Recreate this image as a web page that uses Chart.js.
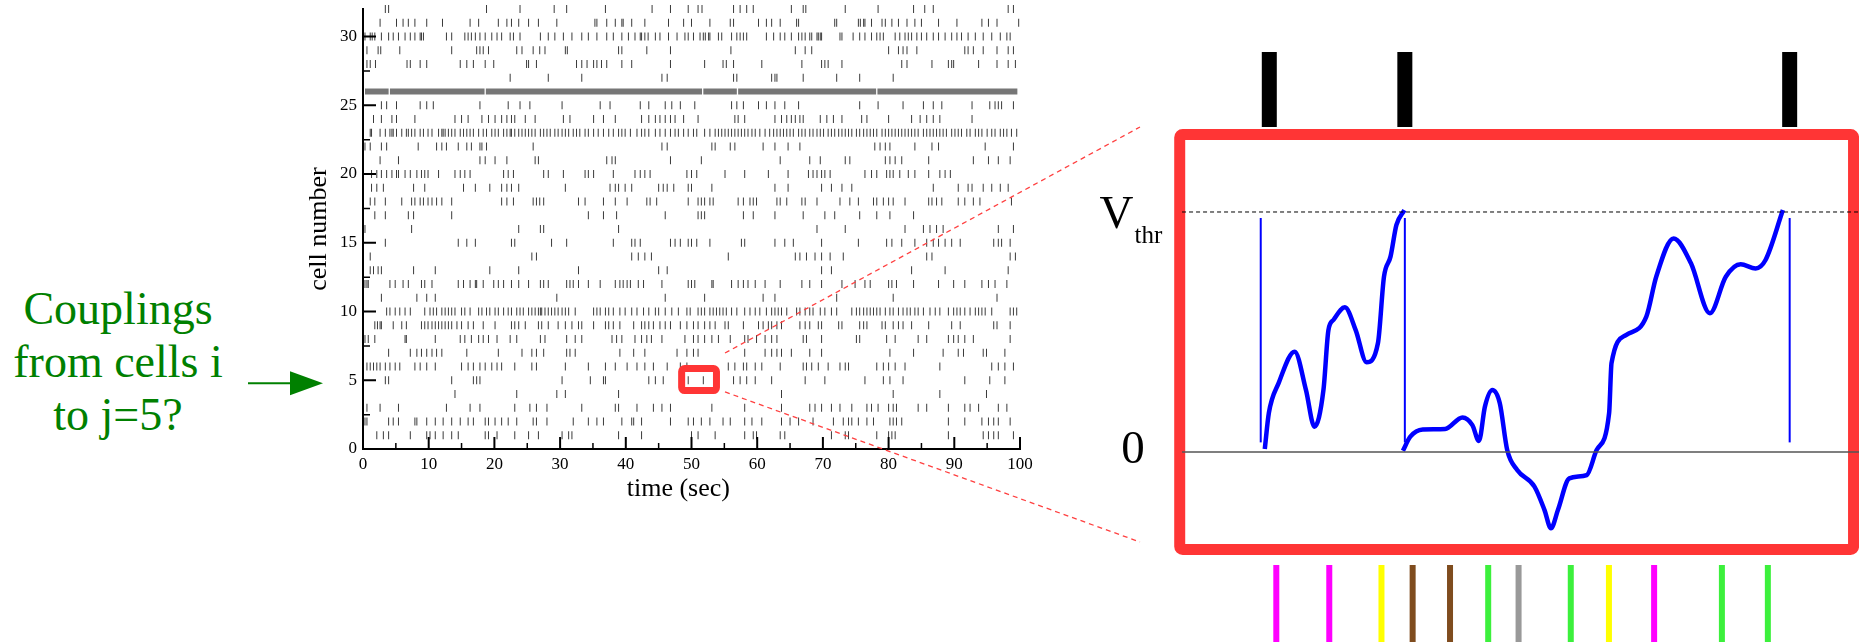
<!DOCTYPE html>
<html>
<head>
<meta charset="utf-8">
<script src="https://cdn.jsdelivr.net/npm/chart.js@4.4.1/dist/chart.umd.min.js"></script>
<style>
  html, body { margin: 0; padding: 0; background: #fff; }
  body { width: 1859px; height: 642px; position: relative; overflow: hidden; }
  #raster { position: absolute; left: 290px; top: 0; }
  #volt { position: absolute; left: 1080px; top: 0; }
  #overlay { position: absolute; left: 0; top: 0; pointer-events: none; }
  #question {
    position: absolute; left: 0; top: 282px; width: 236px;
    text-align: center; font-family: "Liberation Serif", serif;
    font-size: 46px; line-height: 53px; color: #008000;
  }
</style>
</head>
<body>
<div id="question">Couplings<br>from cells i<br>to j=5?</div>
<canvas id="raster" width="760" height="530"></canvas>
<canvas id="volt" width="779" height="642"></canvas>
<canvas id="overlay" width="1859" height="642"></canvas>
<script>
// ---- raster: spike times (sec) for each cell ----
var cell01 = [2.1, 3.1, 3.9, 7.2, 9.7, 10.2, 11.0, 12.2, 13.5, 14.5, 18.6, 19.1, 20.4, 23.1, 25.2, 26.7, 30.3, 31.3, 31.8, 38.9, 42.4, 50.0, 51.0, 53.6, 58.1, 59.4, 59.9, 63.5, 64.2, 71.3, 73.4, 73.9, 78.2, 80.0, 80.5, 81.0, 89.1, 94.4, 95.2, 96.0, 96.7, 99.0];
var cell02 = [0.3, 0.6, 3.9, 4.6, 5.4, 7.9, 8.2, 9.7, 11.0, 12.2, 13.5, 14.8, 16.0, 16.8, 18.6, 19.1, 20.1, 21.1, 22.1, 23.4, 25.9, 26.4, 28.0, 32.0, 34.3, 35.6, 36.6, 39.4, 40.9, 41.2, 42.4, 46.8, 49.5, 50.3, 51.5, 52.8, 54.8, 55.9, 58.1, 59.2, 60.7, 63.7, 65.0, 66.3, 68.5, 71.6, 73.1, 73.9, 74.4, 75.4, 76.7, 77.7, 80.2, 80.7, 81.2, 82.0, 89.1, 91.6, 94.2, 95.2, 96.0, 96.7, 98.5];
var cell03 = [0.6, 2.6, 5.4, 12.7, 16.3, 17.8, 23.1, 25.4, 26.4, 28.0, 33.3, 38.4, 38.9, 41.7, 44.2, 45.5, 46.8, 53.1, 58.1, 63.7, 68.0, 68.8, 69.8, 71.3, 72.6, 74.4, 76.7, 77.4, 78.4, 80.0, 80.7, 81.2, 84.5, 85.8, 89.1, 91.6, 92.4, 93.7, 96.7, 98.0];
var cell04 = [14.0, 23.4, 29.5, 30.8, 38.9, 63.7, 80.7, 87.8, 94.9];
var cell05 = [3.4, 3.9, 13.5, 16.8, 17.3, 17.8, 30.3, 34.6, 36.6, 36.9, 43.5, 44.5, 45.7, 48.9, 49.5, 51.8, 56.4, 57.4, 58.4, 59.7, 62.2, 67.3, 70.3, 76.4, 79.2, 80.2, 82.2, 91.6, 95.4, 97.7];
var cell06 = [0.6, 1.1, 1.6, 2.1, 2.6, 3.4, 4.1, 4.9, 5.6, 7.9, 8.7, 9.7, 11.0, 15.0, 16.0, 16.8, 17.8, 18.6, 19.6, 20.4, 21.1, 23.1, 25.7, 26.4, 30.8, 34.3, 36.9, 38.4, 40.2, 41.7, 42.9, 44.2, 46.3, 48.3, 49.3, 55.6, 56.6, 57.9, 58.4, 59.7, 60.7, 63.5, 67.0, 67.5, 68.3, 69.3, 70.8, 72.6, 73.4, 73.9, 78.2, 79.2, 80.0, 81.0, 82.5, 87.8, 95.7, 96.7, 97.7, 99.0];
var cell07 = [3.9, 7.2, 8.2, 8.9, 9.7, 10.5, 11.2, 12.0, 15.8, 20.6, 24.2, 25.7, 26.4, 27.5, 31.0, 31.5, 32.3, 39.1, 41.2, 42.9, 47.8, 49.3, 50.3, 51.0, 58.1, 61.2, 62.2, 63.0, 63.7, 65.2, 68.0, 69.8, 80.2, 83.8, 88.3, 90.6, 91.4, 94.4, 94.9, 97.7];
var cell08 = [0.3, 0.8, 1.8, 6.4, 6.6, 11.0, 14.8, 15.5, 16.5, 17.6, 18.3, 19.1, 20.4, 22.4, 23.4, 27.0, 27.7, 31.0, 32.3, 33.3, 37.9, 38.6, 39.4, 41.4, 42.4, 43.2, 43.9, 45.5, 49.0, 50.3, 51.0, 52.0, 53.1, 54.1, 55.9, 58.1, 58.6, 59.9, 61.2, 62.2, 63.0, 67.0, 67.5, 69.8, 75.1, 75.6, 79.7, 81.0, 84.5, 85.8, 89.1, 89.9, 90.6, 91.6, 92.9, 98.5];
var cell09 = [1.8, 2.2, 2.6, 2.8, 4.6, 5.9, 6.6, 8.9, 9.4, 9.9, 10.5, 11.0, 11.5, 12.0, 12.5, 13.0, 13.5, 14.3, 15.0, 16.0, 16.8, 18.3, 20.1, 22.6, 23.1, 23.7, 24.7, 26.7, 27.2, 28.2, 29.7, 30.8, 31.8, 32.8, 33.3, 35.1, 36.9, 37.4, 38.1, 39.1, 41.2, 42.4, 42.9, 43.5, 44.2, 45.2, 46.0, 46.8, 48.3, 49.3, 50.3, 51.0, 52.0, 52.8, 53.6, 55.1, 55.6, 57.9, 60.2, 60.9, 61.7, 62.2, 63.0, 63.7, 66.5, 67.3, 68.0, 69.3, 69.8, 72.4, 72.9, 75.6, 76.2, 76.7, 79.0, 79.5, 80.7, 81.5, 82.2, 83.5, 86.1, 89.6, 90.9, 96.0, 96.5, 98.5];
var cell10 = [3.6, 4.1, 4.9, 5.6, 6.4, 7.2, 9.4, 10.2, 10.7, 11.2, 12.0, 12.5, 13.0, 13.5, 14.0, 15.0, 15.5, 16.3, 17.6, 18.1, 18.8, 19.3, 20.1, 20.6, 21.4, 22.1, 22.6, 23.4, 23.9, 24.4, 25.2, 25.7, 26.2, 26.7, 27.0, 27.2, 27.7, 28.2, 28.7, 29.2, 29.7, 30.3, 30.8, 31.3, 32.3, 35.1, 35.6, 36.1, 36.9, 37.4, 38.1, 39.1, 39.9, 40.9, 41.7, 42.7, 43.5, 44.5, 45.0, 46.0, 47.0, 48.0, 49.3, 49.8, 51.0, 51.5, 52.0, 52.8, 53.3, 53.8, 54.3, 54.8, 55.3, 56.1, 56.9, 58.1, 58.9, 59.7, 60.4, 61.4, 62.2, 62.7, 63.2, 63.7, 64.5, 66.0, 66.5, 67.3, 68.0, 68.5, 69.6, 70.3, 71.3, 72.1, 74.4, 75.1, 75.6, 76.2, 76.7, 77.2, 77.7, 78.2, 78.7, 79.5, 80.2, 80.7, 81.5, 82.2, 82.8, 83.3, 84.0, 84.5, 85.3, 86.3, 87.1, 87.8, 89.1, 89.9, 90.4, 90.9, 91.6, 92.4, 93.2, 93.7, 94.2, 94.7, 95.7, 98.5, 99.0, 99.5];
var cell11 = [2.8, 8.2, 9.7, 11.0, 29.5, 46.0, 52.0, 60.9, 62.7, 72.1, 80.7, 96.5];
var cell12 = [0.3, 0.6, 0.8, 4.1, 4.9, 6.1, 6.9, 8.9, 9.4, 10.5, 14.5, 15.3, 16.3, 17.1, 17.3, 18.3, 19.9, 20.6, 21.4, 22.6, 23.7, 25.2, 27.0, 27.5, 28.2, 31.0, 31.5, 32.0, 32.8, 34.3, 36.1, 38.4, 39.1, 39.6, 40.2, 40.7, 41.9, 42.7, 45.5, 49.5, 50.0, 50.5, 53.1, 53.3, 56.1, 57.1, 57.9, 58.6, 59.7, 61.2, 63.5, 66.8, 68.0, 69.8, 72.9, 74.9, 76.4, 77.2, 80.0, 80.5, 81.2, 83.8, 87.6, 89.9, 91.6, 94.2, 95.2, 96.2, 98.0];
var cell13 = [1.1, 1.6, 2.3, 2.8, 7.7, 11.0, 19.3, 23.7, 32.8, 45.0, 46.3, 69.8, 71.3, 83.5, 88.6, 98.2];
var cell14 = [1.1, 25.7, 26.4, 40.9, 41.9, 42.9, 43.9, 55.6, 65.8, 66.5, 67.5, 68.8, 69.8, 71.1, 73.1, 85.8, 86.6, 98.5, 99.3];
var cell15 = [3.4, 14.5, 15.8, 17.1, 22.6, 23.1, 28.7, 31.0, 38.1, 40.9, 41.4, 42.2, 46.8, 47.5, 48.3, 49.5, 50.0, 50.8, 52.8, 57.6, 58.1, 62.7, 64.2, 65.5, 69.8, 75.4, 79.7, 80.5, 82.0, 84.0, 85.8, 86.8, 87.6, 88.6, 89.6, 90.9, 96.0, 96.7, 97.2, 98.5];
var cell16 = [0.3, 7.4, 23.7, 27.0, 27.5, 38.9, 69.1, 73.4, 82.5, 85.3, 86.3, 87.3, 88.3, 96.7, 99.0];
var cell17 = [1.8, 3.4, 6.9, 7.7, 13.5, 34.3, 36.6, 38.6, 46.0, 51.0, 51.5, 52.0, 57.9, 59.4, 62.7, 67.0, 70.3, 71.8, 75.6, 78.2, 80.2, 83.8];
var cell18 = [1.1, 1.8, 3.4, 5.9, 7.4, 7.9, 8.7, 9.2, 9.9, 10.5, 11.2, 12.0, 13.5, 21.1, 21.9, 22.9, 25.9, 26.4, 26.9, 27.5, 32.8, 33.8, 36.6, 38.4, 40.2, 43.2, 43.7, 44.7, 49.5, 51.0, 51.5, 52.0, 52.8, 53.3, 57.1, 57.9, 58.9, 59.4, 59.9, 63.0, 63.5, 64.5, 66.8, 67.3, 69.1, 72.6, 74.1, 75.4, 77.7, 78.2, 79.2, 80.0, 80.7, 82.5, 86.1, 86.6, 87.3, 88.1, 90.6, 91.6, 92.9, 93.9, 98.7];
var cell19 = [1.3, 2.1, 3.1, 7.7, 9.4, 15.3, 17.1, 19.3, 21.1, 21.9, 22.6, 23.7, 30.8, 37.6, 38.4, 38.9, 39.9, 40.9, 45.0, 45.7, 46.3, 47.3, 49.5, 50.0, 53.1, 62.7, 64.7, 69.8, 71.3, 72.9, 74.4, 86.8, 90.6, 92.1, 92.7, 94.4, 95.7, 97.0, 98.2];
var cell20 = [1.3, 2.1, 2.8, 3.6, 4.4, 5.1, 5.4, 6.4, 7.2, 8.2, 8.9, 9.4, 9.9, 11.5, 14.0, 14.8, 15.5, 16.3, 21.4, 22.1, 22.9, 27.5, 28.2, 30.5, 33.8, 34.3, 35.1, 38.1, 41.4, 42.2, 42.9, 43.7, 49.3, 50.0, 50.8, 55.1, 58.1, 61.7, 64.7, 67.8, 68.5, 69.1, 69.8, 70.3, 71.1, 76.4, 77.4, 78.2, 79.7, 80.2, 80.7, 81.7, 83.0, 84.0, 86.1, 87.8, 88.6, 89.4];
var cell21 = [2.6, 5.4, 17.8, 18.6, 20.1, 21.9, 26.2, 26.7, 37.1, 37.9, 38.4, 46.8, 51.5, 63.5, 68.0, 69.6, 73.4, 74.1, 79.5, 80.2, 81.0, 82.0, 86.1, 92.9, 95.2, 96.7, 98.5];
var cell22 = [0.3, 1.1, 2.8, 3.6, 8.4, 11.2, 12.0, 12.7, 14.5, 15.8, 16.5, 17.8, 18.1, 18.8, 25.9, 45.5, 46.3, 53.1, 53.6, 55.9, 56.6, 60.9, 62.7, 64.7, 66.5, 77.9, 78.7, 79.5, 80.2, 84.0, 86.6, 87.6, 94.7, 99.0];
var cell23 = [1.1, 1.3, 2.6, 3.4, 4.1, 4.4, 4.6, 5.1, 5.9, 6.6, 6.9, 7.4, 7.9, 8.7, 9.2, 9.9, 10.5, 11.5, 12.0, 12.2, 12.5, 13.0, 13.5, 14.0, 14.8, 15.3, 15.8, 16.3, 16.8, 17.6, 18.3, 18.8, 19.6, 20.1, 20.6, 21.4, 21.9, 22.4, 22.6, 23.1, 23.7, 24.2, 24.7, 25.2, 25.7, 26.2, 27.0, 27.5, 28.0, 28.5, 29.2, 29.7, 30.3, 30.8, 31.3, 32.0, 32.5, 33.0, 33.8, 34.3, 35.1, 35.8, 36.6, 37.4, 38.1, 38.9, 39.4, 39.9, 40.7, 41.7, 42.4, 42.9, 43.5, 44.5, 45.2, 46.0, 46.8, 47.5, 48.0, 48.8, 49.5, 50.3, 50.8, 52.0, 52.8, 53.6, 54.1, 54.6, 55.1, 55.6, 56.1, 56.6, 57.1, 57.6, 58.1, 58.6, 59.2, 59.7, 60.4, 61.2, 61.9, 62.5, 63.0, 63.5, 64.0, 64.5, 65.0, 65.5, 66.3, 66.8, 67.3, 68.0, 68.5, 69.1, 69.6, 70.1, 70.8, 71.3, 71.8, 72.4, 72.9, 73.4, 73.9, 74.4, 75.1, 75.6, 76.2, 76.7, 77.2, 77.7, 78.2, 79.0, 79.5, 80.0, 80.5, 81.0, 81.5, 82.0, 82.5, 83.0, 83.5, 84.0, 84.5, 85.3, 85.8, 86.3, 86.8, 87.3, 87.8, 88.3, 88.8, 89.6, 90.1, 90.6, 91.1, 91.9, 92.4, 93.2, 93.7, 94.2, 95.0, 95.7, 96.2, 97.0, 97.5, 98.0, 98.7, 99.5];
var cell24 = [1.6, 2.8, 4.4, 5.1, 7.9, 14.0, 15.0, 16.0, 18.1, 19.1, 20.1, 21.1, 21.9, 22.6, 23.1, 24.7, 26.2, 30.5, 31.5, 35.1, 36.6, 38.4, 42.4, 43.5, 44.5, 45.2, 46.0, 46.8, 47.5, 48.8, 51.0, 56.6, 57.1, 58.1, 62.7, 63.7, 64.5, 65.2, 65.8, 66.5, 67.0, 69.6, 70.6, 71.6, 72.9, 75.9, 76.7, 80.0, 83.5, 84.8, 85.8, 86.8, 87.8, 92.7];
var cell25 = [2.8, 3.6, 5.1, 8.7, 9.7, 10.7, 17.8, 22.1, 23.9, 25.4, 30.3, 36.1, 37.6, 42.2, 43.5, 46.0, 47.0, 48.3, 50.5, 56.1, 56.9, 57.9, 60.2, 61.4, 62.7, 64.2, 66.3, 75.6, 78.4, 82.2, 85.3, 86.8, 88.1, 92.7, 95.4, 96.2, 96.7, 97.2, 99.0];
// cell 26 fires almost continuously: [start, end] of its dense bursts
var cell26Bursts = [[0.3, 3.9], [4.1, 18.5], [18.7, 51.6], [51.8, 56.9], [57.1, 78.1], [78.3, 99.6]];
var cell27 = [22.4, 28.2, 33.3, 45.5, 46.3, 56.4, 56.9, 62.2, 62.7, 63.0, 67.0, 72.1, 75.6, 80.7];
var cell28 = [0.6, 1.1, 1.9, 6.7, 7.2, 8.7, 9.7, 14.8, 15.8, 16.8, 18.6, 19.9, 24.9, 25.2, 26.4, 32.5, 33.3, 34.1, 35.1, 35.6, 36.3, 37.1, 39.4, 40.9, 46.8, 52.0, 54.8, 55.3, 56.4, 60.7, 66.8, 69.8, 70.3, 70.8, 72.9, 82.0, 82.8, 86.6, 89.1, 89.6, 89.9, 93.7, 96.5, 98.2, 99.3];
var cell29 = [0.6, 2.3, 2.7, 5.6, 13.5, 17.3, 17.8, 18.3, 19.1, 23.4, 24.2, 25.9, 26.9, 27.7, 30.8, 31.1, 38.9, 39.4, 43.2, 46.8, 56.0, 65.8, 67.3, 68.3, 80.0, 81.5, 82.2, 82.8, 84.3, 91.6, 92.1, 92.9, 94.4, 96.5, 98.2, 99.0];
var cell30 = [0.3, 1.1, 1.4, 1.8, 2.8, 3.9, 4.6, 5.4, 6.4, 7.2, 7.9, 8.7, 8.9, 9.2, 12.7, 13.5, 15.5, 16.0, 16.5, 17.1, 17.8, 18.6, 19.6, 20.4, 21.1, 22.4, 22.9, 23.9, 27.0, 28.2, 29.2, 30.5, 31.8, 33.3, 34.3, 35.6, 37.1, 38.1, 39.4, 40.4, 41.4, 42.2, 42.4, 42.9, 43.4, 44.5, 45.2, 46.5, 47.8, 49.0, 49.5, 50.3, 51.3, 51.8, 52.1, 52.6, 52.8, 54.1, 54.6, 56.1, 56.9, 57.4, 57.9, 58.4, 61.4, 62.5, 63.5, 64.2, 65.2, 66.3, 66.8, 67.3, 68.0, 68.3, 69.1, 69.3, 69.6, 69.8, 72.6, 72.9, 74.6, 75.6, 76.4, 77.4, 78.2, 78.7, 79.2, 81.0, 81.7, 82.5, 83.0, 83.5, 84.3, 85.0, 85.8, 86.8, 87.6, 88.6, 89.6, 90.4, 91.1, 92.1, 93.2, 94.4, 95.7, 97.0, 98.0, 98.5];
var cell31 = [2.6, 5.1, 6.1, 6.9, 7.9, 9.7, 12.1, 16.3, 17.6, 20.6, 21.9, 22.6, 23.7, 25.2, 26.7, 29.5, 35.3, 35.6, 37.1, 38.4, 39.4, 39.6, 40.9, 42.9, 46.5, 48.8, 50.0, 52.8, 55.9, 56.4, 60.2, 61.4, 62.2, 63.5, 66.0, 66.3, 71.8, 72.1, 75.4, 75.7, 76.2, 76.4, 77.4, 79.0, 79.5, 80.5, 81.5, 82.8, 84.0, 85.0, 87.6, 90.4, 94.2, 95.2, 96.5, 99.8];
var cell32 = [3.4, 3.9, 18.8, 23.9, 29.1, 31.0, 36.9, 44.0, 46.8, 49.5, 51.0, 51.6, 56.4, 57.4, 58.4, 59.4, 65.2, 67.0, 67.4, 73.4, 78.4, 83.8, 85.5, 86.8, 98.2, 99.0];

var cellRows = [cell01, cell02, cell03, cell04, cell05, cell06, cell07, cell08, cell09, cell10,
  cell11, cell12, cell13, cell14, cell15, cell16, cell17, cell18, cell19, cell20,
  cell21, cell22, cell23, cell24, cell25, [], cell27, cell28, cell29, cell30, cell31, cell32];

// axis ticks of the raster
var timeTicks = [0, 10, 20, 30, 40, 50, 60, 70, 80, 90, 100];
var timeMinor = [5, 15, 25, 35, 45, 55, 65, 75, 85, 95];
var cellTicks = [0, 5, 10, 15, 20, 25, 30];
var cellMinor = [2.5, 7.5, 12.5, 17.5, 22.5, 27.5];

// zoom window around cell 5 (time sec, cell)
var zoomT = [48.5, 53.8];
var zoomCell = [4.25, 5.85];

// ---- zoomed panel: membrane potential of cell 5 (time in panel units, V / Vthr) ----
var vThr = 1;
var traceT1 = [23.72, 24.24, 25.51, 27.55, 29.01, 30.10, 31.25, 31.89, 32.53, 34.0, 35.39, 36.79, 38.25, 39.02, 39.86, 40.62, 41.64];
var traceV1 = [0.012, 0.162, 0.288, 0.418, 0.258, 0.105, 0.258, 0.508, 0.55, 0.603, 0.508, 0.374, 0.454, 0.73, 0.814, 0.946, 1.008];
var traceT2 = [41.45, 42.40, 44.0, 46.87, 49.10, 50.37, 51.21, 51.98, 52.93, 53.89, 54.84, 56.12, 58.34, 59.63, 60.45, 61.35, 62.81, 65.05, 66.32, 67.92, 68.23, 70.14, 72.70, 73.97, 76.20, 78.43, 80.86, 82.90, 84.81, 86.73, 88.0, 90.23];
var traceV2 = [0.005, 0.064, 0.094, 0.096, 0.144, 0.112, 0.046, 0.189, 0.258, 0.203, 0.008, -0.075, -0.144, -0.242, -0.318, -0.242, -0.110, -0.096, 0.008, 0.161, 0.37, 0.488, 0.564, 0.73, 0.89, 0.786, 0.578, 0.73, 0.782, 0.765, 0.80, 1.008];
var resetTimes = [23.2, 41.7, 91.1];
var outSpikeTimes = [24.3, 41.7, 91.1];
var inputTimes = [25.2, 32.0, 38.7, 42.7, 47.5, 52.4, 56.3, 63.0, 67.9, 73.7, 82.4, 88.3];
var inputColors = ['#ff00ff', '#ff00ff', '#ffff00', '#7f4c1e', '#7f4c1e', '#3cf03c', '#999999', '#3cf03c', '#ffff00', '#ff00ff', '#3cf03c', '#3cf03c'];

var SERIF = '"Liberation Serif", "Times New Roman", serif';

// ticks drawn inside the plot, box around cell 5 and x title
var rasterDecor = {
  id: 'rasterDecor',
  afterDraw: function(chart) {
    var ctx = chart.ctx, xs = chart.scales.x, ys = chart.scales.y;
    var bottom = ys.bottom, left = xs.left;
    ctx.save();
    ctx.strokeStyle = '#000';
    ctx.lineWidth = 2;
    ctx.beginPath();
    timeTicks.forEach(function(v) { var p = xs.getPixelForValue(v); ctx.moveTo(p, bottom); ctx.lineTo(p, bottom - 12); });
    cellTicks.forEach(function(v) { var p = ys.getPixelForValue(v); ctx.moveTo(left, p); ctx.lineTo(left + 13, p); });
    ctx.stroke();
    ctx.lineWidth = 1.5;
    ctx.beginPath();
    timeMinor.forEach(function(v) { var p = xs.getPixelForValue(v); ctx.moveTo(p, bottom); ctx.lineTo(p, bottom - 6); });
    cellMinor.forEach(function(v) { var p = ys.getPixelForValue(v); ctx.moveTo(left, p); ctx.lineTo(left + 7, p); });
    ctx.stroke();

    var bx0 = xs.getPixelForValue(zoomT[0]), bx1 = xs.getPixelForValue(zoomT[1]);
    var by0 = ys.getPixelForValue(zoomCell[1]), by1 = ys.getPixelForValue(zoomCell[0]);
    ctx.strokeStyle = '#ff3535';
    ctx.lineWidth = 7;
    ctx.beginPath();
    ctx.roundRect(bx0, by0, bx1 - bx0, by1 - by0, 3);
    ctx.stroke();

    ctx.fillStyle = '#000';
    ctx.font = '26px ' + SERIF;
    ctx.textAlign = 'center';
    ctx.textBaseline = 'alphabetic';
    ctx.fillText('time (sec)', xs.getPixelForValue(48), bottom + 47);
    ctx.restore();
  }
};

var spikePoints = [];
cellRows.forEach(function(times, i) {
  times.forEach(function(t) { spikePoints.push({ x: t, y: i + 1 }); });
});

var rasterSets = [{
  data: spikePoints,
  pointStyle: 'line',
  rotation: 90,
  pointRadius: 4,
  pointHoverRadius: 4,
  borderWidth: 1,
  borderColor: '#3a3a3a',
  clip: false
}];
cell26Bursts.forEach(function(b) {
  rasterSets.push({
    data: [{ x: b[0], y: 26 }, { x: b[1], y: 26 }],
    showLine: true, pointRadius: 0, borderWidth: 6,
    borderColor: '#767676', borderCapStyle: 'butt', clip: false
  });
});

var rasterChart = new Chart('raster', {
  type: 'scatter',
  data: { datasets: rasterSets },
  plugins: [rasterDecor],
  options: {
    responsive: false,
    animation: false,
    events: [],
    layout: { padding: { top: 9, right: 30, left: 0, bottom: 0 } },
    plugins: { legend: { display: false }, tooltip: { enabled: false } },
    scales: {
      x: {
        type: 'linear', min: 0, max: 100,
        afterBuildTicks: function(s) { s.ticks = timeTicks.map(function(v) { return { value: v }; }); },
        afterFit: function(s) { s.height = 81; s.paddingLeft = 0; s.paddingRight = 0; },
        ticks: { color: '#000', font: { family: SERIF, size: 17 }, padding: 5, maxRotation: 0, autoSkip: false },
        grid: { display: false, drawTicks: false },
        border: { display: true, color: '#000', width: 2 }
      },
      y: {
        type: 'linear', min: 0, max: 32,
        afterBuildTicks: function(s) { s.ticks = cellTicks.map(function(v) { return { value: v }; }); },
        afterFit: function(s) { s.width = 73; s.paddingTop = 0; s.paddingBottom = 0; },
        ticks: { color: '#000', font: { family: SERIF, size: 17 }, padding: 6, autoSkip: false },
        grid: { display: false, drawTicks: false },
        border: { display: true, color: '#000', width: 2 },
        title: { display: true, text: 'cell number', color: '#000', font: { family: SERIF, size: 26 }, padding: { top: 14, bottom: 0 } }
      }
    }
  }
});

// ---- zoomed panel ----
var box = { t0: 12.8, t1: 99.3, v0: -0.406, v1: 1.323 };

var voltDecor = {
  id: 'voltDecor',
  beforeDatasetsDraw: function(chart) {
    var ctx = chart.ctx, xs = chart.scales.x, ys = chart.scales.y;
    var x0 = xs.getPixelForValue(box.t0), x1 = xs.getPixelForValue(box.t1);
    var y0 = ys.getPixelForValue(box.v1), y1 = ys.getPixelForValue(box.v0);
    ctx.save();
    ctx.strokeStyle = '#ff3535';
    ctx.lineWidth = 11;
    ctx.lineJoin = 'round';
    ctx.beginPath();
    ctx.roundRect(x0, y0, x1 - x0, y1 - y0, 3);
    ctx.stroke();
    ctx.restore();
  },
  afterDraw: function(chart) {
    var ctx = chart.ctx, xs = chart.scales.x, ys = chart.scales.y;
    var yT = ys.getPixelForValue(vThr), yZ = ys.getPixelForValue(0);
    ctx.save();
    ctx.fillStyle = '#000';
    ctx.textAlign = 'left';
    ctx.textBaseline = 'alphabetic';
    ctx.font = '47px ' + SERIF;
    ctx.fillText('V', xs.getPixelForValue(2.5), yT + 16);
    ctx.fillText('0', xs.getPixelForValue(5.3), yZ + 11);
    ctx.font = '25px ' + SERIF;
    ctx.fillText('thr', xs.getPixelForValue(7.0), yT + 31);
    ctx.restore();
  }
};

function seg(t, a, b, color, width, dash) {
  return {
    data: [{ x: t[0], y: a }, { x: t[1], y: b }],
    showLine: true, pointRadius: 0, borderColor: color, borderWidth: width,
    borderDash: dash || [], borderCapStyle: 'butt', clip: false
  };
}

var voltSets = [];
voltSets.push(seg([box.t0 + 0.3, 100], 0, 0, '#555555', 1.5));
voltSets.push(seg([box.t0 + 0.3, 100], vThr, vThr, '#000000', 1, [4, 3]));
resetTimes.forEach(function(t) { voltSets.push(seg([t, t], 0.04, 0.975, '#0000ff', 2)); });
[[traceT1, traceV1], [traceT2, traceV2]].forEach(function(p) {
  voltSets.push({
    data: p[0].map(function(t, i) { return { x: t, y: p[1][i] }; }),
    showLine: true, pointRadius: 0, borderColor: '#0000ff', borderWidth: 4.5,
    cubicInterpolationMode: 'monotone', borderCapStyle: 'butt', clip: false
  });
});
outSpikeTimes.forEach(function(t) { voltSets.push(seg([t, t], 1.354, 1.667, '#000000', 15)); });
inputTimes.forEach(function(t, i) { voltSets.push(seg([t, t], -0.471, -0.82, inputColors[i], 6)); });

var voltChart = new Chart('volt', {
  type: 'scatter',
  data: { datasets: voltSets },
  plugins: [voltDecor],
  options: {
    responsive: false,
    animation: false,
    events: [],
    layout: { padding: 0 },
    plugins: { legend: { display: false }, tooltip: { enabled: false } },
    scales: {
      x: { type: 'linear', min: 0, max: 100, display: false },
      y: { type: 'linear', min: -0.7917, max: 1.8833, display: false }
    }
  }
});

// ---- overlay: arrow and dashed zoom lines ----
var ov = document.getElementById('overlay').getContext('2d');
var rasterLeft = 290, voltLeft = 1080;
function rasterPt(t, c) { return [rasterLeft + rasterChart.scales.x.getPixelForValue(t), rasterChart.scales.y.getPixelForValue(c)]; }
function voltPt(t, v) { return [voltLeft + voltChart.scales.x.getPixelForValue(t), voltChart.scales.y.getPixelForValue(v)]; }

ov.strokeStyle = '#ff4040';
ov.lineWidth = 1.3;
ov.setLineDash([5, 4]);
[[rasterPt(55.1, 6.98), voltPt(7.7, 1.354)], [rasterPt(55.1, 4.15), voltPt(7.7, -0.375)]].forEach(function(l) {
  ov.beginPath();
  ov.moveTo(l[0][0], l[0][1]);
  ov.lineTo(l[1][0], l[1][1]);
  ov.stroke();
});

var arrowY = rasterChart.scales.y.getPixelForValue(5) + 3;
ov.setLineDash([]);
ov.strokeStyle = '#008000';
ov.fillStyle = '#008000';
ov.lineWidth = 2;
ov.beginPath();
ov.moveTo(248, arrowY);
ov.lineTo(292, arrowY);
ov.stroke();
ov.beginPath();
ov.moveTo(290, arrowY - 12);
ov.lineTo(323, arrowY);
ov.lineTo(290, arrowY + 12);
ov.closePath();
ov.fill();
</script>
</body>
</html>
